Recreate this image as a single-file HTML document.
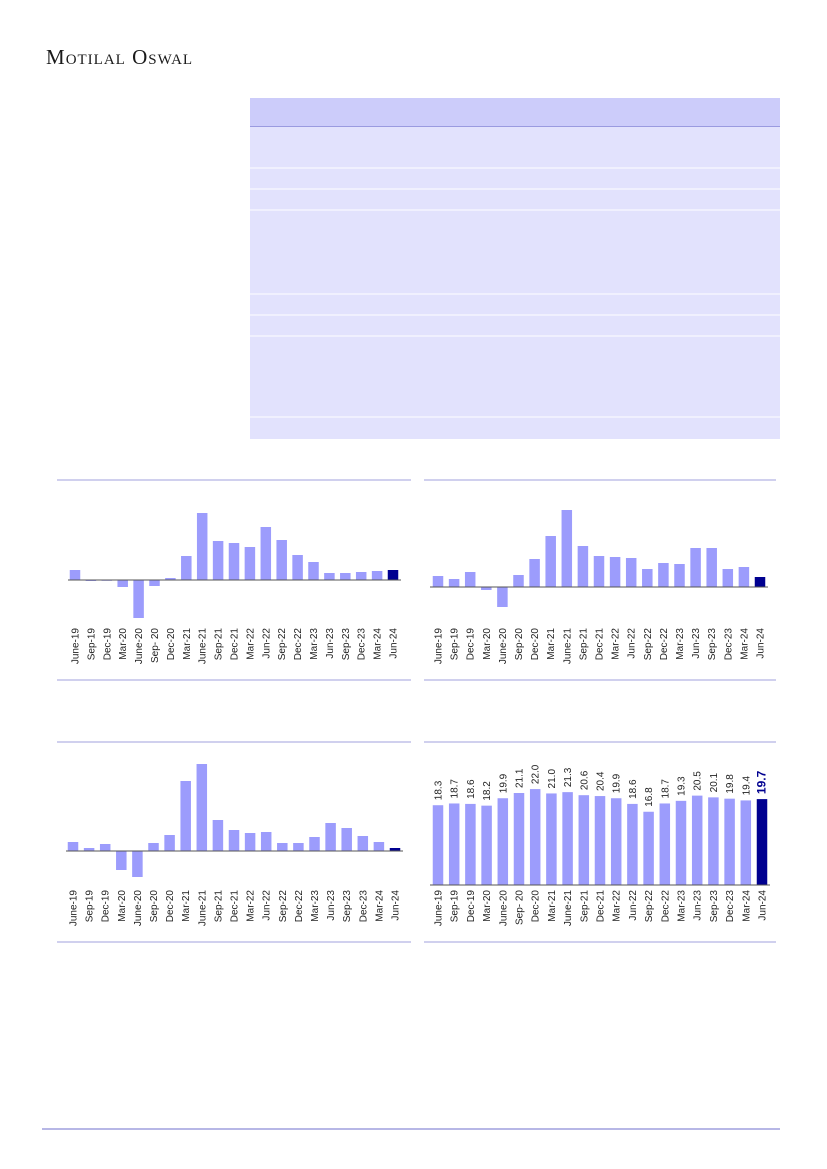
<!DOCTYPE html>
<html><head><meta charset="utf-8"><style>
body{margin:0;background:#fff;}
svg{display:block}
</style></head><body>
<svg width="827" height="1169" xmlns="http://www.w3.org/2000/svg" font-family="Liberation Sans, sans-serif">
<text x="46" y="64" font-family="Liberation Serif, serif" font-size="21" fill="#1a1a1a" letter-spacing="1">M<tspan font-size="15">OTILAL</tspan> O<tspan font-size="15">SWAL</tspan></text>
<rect x="250" y="98" width="530" height="28" fill="#ccccfa"/>
<line x1="250" y1="126.5" x2="780" y2="126.5" stroke="#9a9ae0" stroke-width="1"/>
<rect x="250" y="127" width="530" height="312" fill="#e2e2fd"/>
<g stroke="#f4f4ff" stroke-width="1.5">
<line x1="250" x2="780" y1="168" y2="168"/><line x1="250" x2="780" y1="189" y2="189"/><line x1="250" x2="780" y1="210" y2="210"/><line x1="250" x2="780" y1="294" y2="294"/><line x1="250" x2="780" y1="315" y2="315"/><line x1="250" x2="780" y1="336" y2="336"/><line x1="250" x2="780" y1="417" y2="417"/>
</g>
<g stroke="#b4b4e4" stroke-width="1.2">
<line x1="57" x2="411" y1="480" y2="480"/><line x1="57" x2="411" y1="680" y2="680"/>
<line x1="424" x2="776" y1="480" y2="480"/><line x1="424" x2="776" y1="680" y2="680"/>
<line x1="57" x2="411" y1="742" y2="742"/><line x1="57" x2="411" y1="942" y2="942"/>
<line x1="424" x2="776" y1="742" y2="742"/><line x1="424" x2="776" y1="942" y2="942"/>
</g>
<line x1="42" x2="780" y1="1129" y2="1129" stroke="#8c8cd8" stroke-width="1.2"/>
<g id="charts"></g>
</svg>
<script>
const NS="http://www.w3.org/2000/svg";
const g=document.getElementById('charts');
const L1=["June-19","Sep-19","Dec-19","Mar-20","June-20","Sep- 20","Dec-20","Mar-21","June-21","Sep-21","Dec-21","Mar-22","Jun-22","Sep-22","Dec-22","Mar-23","Jun-23","Sep-23","Dec-23","Mar-24","Jun-24"];
const L2=["June-19","Sep-19","Dec-19","Mar-20","June-20","Sep-20","Dec-20","Mar-21","June-21","Sep-21","Dec-21","Mar-22","Jun-22","Sep-22","Dec-22","Mar-23","Jun-23","Sep-23","Dec-23","Mar-24","Jun-24"];
const L4=["June-19","Sep-19","Dec-19","Mar-20","June-20","Sep- 20","Dec-20","Mar-21","June-21","Sep-21","Dec-21","Mar-22","Jun-22","Sep-22","Dec-22","Mar-23","Jun-23","Sep-23","Dec-23","Mar-24","Jun-24"];
function el(t,a,txt){const e=document.createElementNS(NS,t);for(const k in a)e.setAttribute(k,a[k]);if(txt!==undefined)e.textContent=txt;g.appendChild(e);return e;}
function chart(x0,x1,base,ends,labels,labY,axisL,axisR){
  const n=ends.length,step=(x1-x0)/(n-1),w=10.5;
  ends.forEach((e,i)=>{const cx=x0+i*step;const y=Math.min(e,base),h=Math.max(Math.abs(e-base),0.8);
    el('rect',{x:cx-w/2,y:y,width:w,height:h,fill:i==n-1?'#000090':'#9c9cfc'});
    el('text',{x:cx+3.5,y:labY,transform:`rotate(-90 ${cx+3.5} ${labY})`,'text-anchor':'end','font-size':'10',fill:'#222'},labels[i]);
  });
  el('line',{x1:axisL,x2:axisR,y1:base,y2:base,stroke:'#555','stroke-width':1});
}
chart(75,393,580,[570,581,580,587,618,586,578,556,513,541,543,547,527,540,555,562,573,573,572,571,570],L1,628,68,401);
chart(438,760,587,[576,579,572,590,607,575,559,536,510,546,556,557,558,569,563,564,548,548,569,567,577],L2,628,430,768);
chart(73,395,851,[842,848,844,870,877,843,835,781,764,820,830,833,832,843,843,837,823,828,836,842,848],L2,890,66,403);
const v=[18.3,18.7,18.6,18.2,19.9,21.1,22.0,21.0,21.3,20.6,20.4,19.9,18.6,16.8,18.7,19.3,20.5,20.1,19.8,19.4,19.7];
const base=885,k=4.36;
chart(438,762,base,v.map(x=>base-x*k),L4,890,430,770);
v.forEach((x,i)=>{const cx=438+i*(324/20)+3.5;const y=base-x*k-5;const last=i==20;
 el('text',{x:cx,y:y,transform:`rotate(-90 ${cx} ${y})`,'font-size':last?'12':'10','font-weight':last?'bold':'normal',fill:last?'#000090':'#222'},x.toFixed(1));});
</script>
</body></html>
